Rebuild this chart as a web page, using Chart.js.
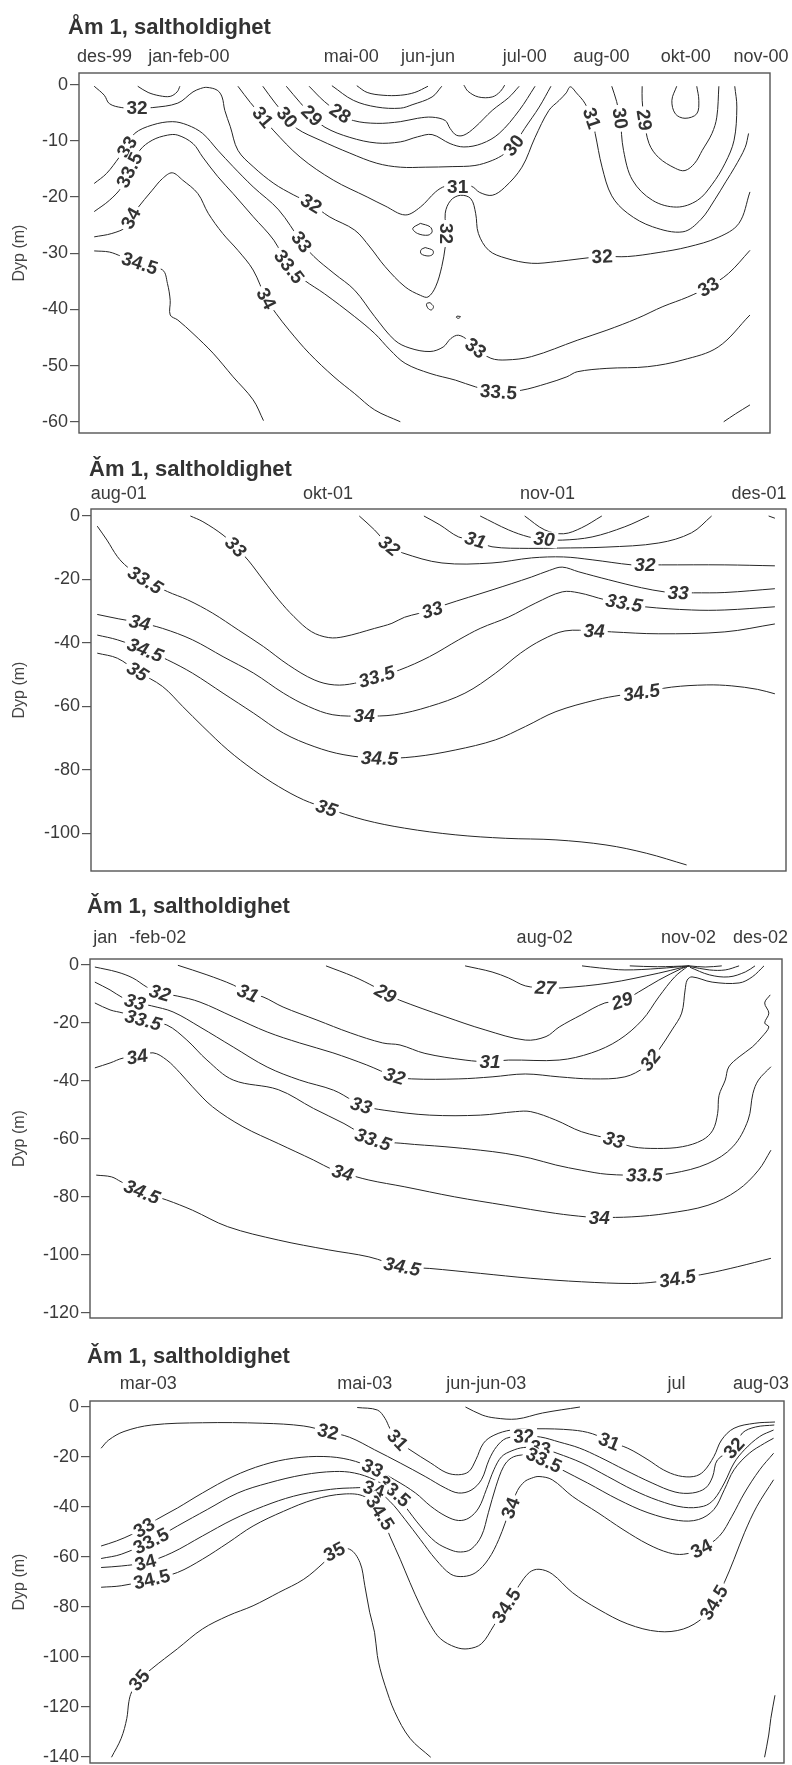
<!DOCTYPE html>
<html>
<head>
<meta charset="utf-8">
<title>Åm 1, saltholdighet</title>
<script src="https://cdn.jsdelivr.net/npm/chart.js@4.4.1/dist/chart.umd.min.js"></script>
<style>
  html, body { margin: 0; padding: 0; background: #fff; overflow: hidden; }
  #wrap { position: relative; width: 792px; height: 1765px; }
  #wrap canvas { position: absolute; left: 0; }
</style>
</head>
<body>
<div id="wrap">
  <canvas id="sec1" width="792" height="455" style="top:0px;width:792px;height:455px"></canvas>
  <canvas id="sec2" width="792" height="450" style="top:440px;width:792px;height:450px"></canvas>
  <canvas id="sec3" width="792" height="460" style="top:880px;width:792px;height:460px"></canvas>
  <canvas id="sec4" width="792" height="440" style="top:1325px;width:792px;height:440px"></canvas>
</div>
<script>
// x: position along the time section (0-100), y: depth in metres.
// A third element of 1 marks the point where the isohaline value is written.

// ---------- Section 1: des-99 .. nov-00 ----------
const sec1Dates = ['des-99', 'jan-feb-00', 'mai-00', 'jun-jun', 'jul-00', 'aug-00', 'okt-00', 'nov-00'];
const sec1DatePos = [3.7, 15.9, 39.4, 50.5, 64.5, 75.6, 87.8, 98.7];
const sec1Depths = [0, -10, -20, -30, -40, -50, -60];

const s1_32 = [[2.2,-0.3],[3.66,-1.9],[4.4,-3.4],[6.2,-4.1],[8.4,-4.2,1],[10.6,-4.1],[14.3,-3.3],[16.5,-1.3],[17.6,-0.7],[18.5,-0.5],[20.0,-1.0],[20.7,-2.2],[21.1,-4.6],[21.9,-7.5],[23.0,-11.7],[25.2,-14.6],[28.2,-17.6],[31.0,-19.6],[33.6,-21.2,1],[36.2,-23.5],[39.9,-25.9],[42.1,-28.9],[44.3,-32.4],[47.2,-36.0],[49.4,-37.5],[50.5,-37.8],[51.6,-36.0],[52.5,-32.4],[53.0,-28.9],[53.2,-26.5,1],[53.0,-22.9],[53.8,-20.6],[55.2,-19.7],[56.7,-20.3],[57.4,-22.9],[57.8,-26.5],[59.3,-29.5],[61.8,-30.9],[65.5,-31.8],[69.1,-31.5],[72.5,-31.0],[75.7,-30.6,1],[79.4,-30.6],[83.8,-29.9],[88.1,-28.9],[92.5,-27.2],[95.5,-24.7],[97.1,-19.1]];
const s1_31 = [[23.0,-0.3],[24.8,-3.2],[26.6,-5.8,1],[28.1,-8.1],[32.0,-12.9],[36.8,-17.0],[41.7,-20.0],[44.3,-21.6],[47.2,-23.2],[49.4,-21.8],[51.6,-19.1],[53.0,-18.1],[54.8,-18.1,1],[56.8,-18.1],[58.0,-19.2],[59.8,-19.7],[61.6,-18.3],[64.1,-14.7],[66.0,-9.4],[68.0,-4.6],[69.5,-2.8],[70.5,-1.5],[71.1,-0.4],[72.0,-1.5],[73.2,-3.3],[74.2,-6.0,1],[74.7,-8.7],[75.7,-14.7],[77.1,-19.8],[79.4,-22.9],[83.0,-25.3],[87.4,-26.2],[90.0,-24.0],[92.0,-20.5],[93.6,-17.3],[94.9,-14.7],[96.4,-11.2],[96.9,-8.7]];
const s1_30a = [[26.6,-0.3],[28.4,-3.3],[30.1,-5.8,1],[31.5,-7.8],[34.9,-9.9],[39.2,-12.2],[43.1,-14.0],[46.5,-14.7],[50.1,-14.7],[54.0,-14.6],[57.3,-14.4],[59.8,-13.5],[61.6,-12.3],[62.9,-10.8,1],[64.5,-7.8],[66.6,-4.0],[68.3,-0.3]];
const s1_30b = [[77.1,-0.3],[77.8,-3.0],[78.3,-6.0,1],[78.8,-11.7],[80.1,-17.0],[83.0,-20.6],[86.5,-21.8],[89.5,-20.6],[91.6,-17.8],[93.5,-14.0],[94.8,-9.9],[95.2,-4.0],[94.9,-0.3]];
const s1_29a = [[30.0,-0.3],[32.0,-3.2],[33.7,-5.5,1],[35.6,-7.6],[39.2,-9.4],[43.1,-10.4],[46.5,-10.2],[49.0,-9.3],[51.1,-8.9],[53.7,-10.5],[55.7,-11.1],[58.3,-10.5],[60.8,-8.7],[63.7,-4.6],[66.0,-0.3]];
const s1_29b = [[81.5,-0.3],[81.5,-2.8],[81.8,-6.3,1],[82.5,-10.5],[83.9,-13.0],[86.3,-14.9],[87.7,-15.3],[89.1,-14.0],[90.2,-11.7],[91.6,-8.7],[92.3,-5.8],[92.6,-0.3]];
const s1_28 = [[33.3,-0.3],[35.5,-3.0],[37.8,-5.1,1],[39.7,-6.4],[43.1,-6.9],[46.5,-6.6],[49.0,-6.0],[51.1,-5.8],[53.0,-6.4],[53.7,-7.8],[54.6,-9.0],[55.7,-9.0],[57.3,-7.6],[59.8,-4.6],[62.2,-2.3],[63.7,-0.3]];
const s1_27 = [[36.6,-0.2],[39.7,-2.8],[43.1,-4.0],[46.5,-4.2],[48.2,-3.6],[51.1,-2.2],[52.5,-0.3]];
const s1_26 = [[40.2,-0.2],[41.7,-1.4],[44.0,-1.9],[46.5,-1.9],[48.6,-1.4],[50.5,-0.3]];
const s1_27b = [[55.7,-0.1],[56.3,-1.2],[57.8,-2.2],[59.8,-2.2],[61.0,-1.2],[61.6,-0.1]];
const s1_31b = [[8.5,-0.3],[10.0,-1.4],[11.7,-2.0],[13.2,-2.1],[14.2,-1.3],[14.6,-0.3]];
const s1_28b = [[86.5,-0.3],[85.8,-2.8],[86.3,-5.2],[87.7,-6.0],[89.4,-5.2],[89.7,-2.8],[89.4,-0.3]];
const s1_33 = [[2.2,-17.6],[4.0,-15.8],[5.85,-12.9],[6.95,-11.1,1],[8.05,-8.7],[10.6,-7.2],[13.5,-6.6],[15.7,-7.2],[17.9,-8.7],[20.1,-11.7],[22.3,-14.6],[25.2,-18.2],[28.9,-22.3],[32.2,-28.0,1],[34.0,-30.6],[36.9,-33.6],[39.9,-36.6],[42.8,-41.3],[45.7,-45.5],[47.9,-46.9],[50.8,-47.5],[52.7,-46.7],[53.8,-45.2],[54.9,-44.6],[56.3,-45.5],[57.4,-46.9,1],[59.6,-48.7],[61.8,-49.0],[65.5,-48.4],[72.1,-45.5],[76.4,-43.7],[80.8,-41.6],[84.5,-39.5],[88.1,-37.8],[91.1,-36.0,1],[94.0,-33.6],[97.1,-29.5]];
const s1_335 = [[2.2,-22.6],[4.4,-20.6],[6.2,-18.2],[7.3,-15.2,1],[8.8,-11.7],[10.6,-9.9],[12.8,-9.0],[14.3,-9.0],[16.5,-10.5],[17.9,-12.9],[20.1,-16.4],[22.3,-19.4],[25.2,-23.5],[28.2,-27.7],[30.4,-32.4,1],[32.6,-34.8],[35.5,-37.2],[39.9,-41.3],[42.8,-44.3],[45.0,-47.2],[47.2,-49.6],[50.8,-51.4],[54.5,-52.6],[57.4,-53.8],[60.7,-54.7,1],[64.0,-54.4],[67.7,-53.2],[70.6,-52.0],[72.1,-51.1],[76.4,-50.5],[82.3,-50.2],[87.4,-49.0],[92.5,-46.7],[97.1,-41.0]];
const s1_34 = [[2.2,-27.1],[4.75,-26.5],[6.95,-25.3],[7.5,-23.8,1],[8.4,-22.1],[10.6,-18.8],[12.1,-16.7],[13.5,-15.7],[15.0,-17.0],[17.2,-19.4],[18.7,-22.9],[20.8,-26.5],[23.0,-29.5],[25.2,-33.0],[27.1,-38.1,1],[28.5,-40.7],[30.4,-43.7],[33.3,-47.8],[36.9,-52.0],[39.9,-55.0],[42.8,-57.9],[46.5,-60.0]];
const s1_345 = [[2.2,-29.6],[4.4,-29.8],[6.2,-30.6],[8.8,-31.8,1],[12.1,-33.0],[12.8,-35.4],[13.2,-38.4],[13.2,-41.0],[14.3,-41.9],[16.5,-44.3],[19.4,-47.8],[22.3,-52.0],[25.2,-56.1],[26.7,-59.8]];
const s1_34b = [[93.3,-60.0],[95.0,-58.6],[97.1,-57.0]];
const s1_isl1 = [[49.4,-24.7],[50.8,-25.3],[51.1,-26.2],[50.5,-26.8],[49.0,-26.5],[48.3,-25.6],[49.4,-24.7]];
const s1_isl2 = [[50.1,-29.0],[51.2,-29.5],[51.2,-30.2],[50.5,-30.5],[49.5,-30.1],[49.5,-29.4],[50.1,-29.0]];
const s1_isl3 = [[50.8,-38.8],[51.3,-39.5],[51.0,-40.1],[50.5,-39.8],[50.3,-39.0],[50.8,-38.8]];
const s1_isl4 = [[54.7,-41.2],[55.2,-41.3],[54.9,-41.6],[54.6,-41.4],[54.7,-41.2]];

// ---------- Section 2: aug-01 .. des-01 ----------
const sec2Dates = ['aug-01', 'okt-01', 'nov-01', 'des-01'];
const sec2DatePos = [4.0, 34.1, 65.7, 96.1];
const sec2Depths = [0, -20, -40, -60, -80, -100];

const s2_335 = [[0.9,-3.3],[2.3,-7.7],[3.8,-12.9],[5.2,-16.1],[7.8,-20.3,1],[11.0,-23.9],[13.9,-26.5],[17.5,-30.7],[21.2,-36.0],[24.8,-41.2],[28.4,-47.0],[32.1,-51.7],[35.0,-53.3],[37.9,-52.8],[41.1,-50.7,1],[44.4,-48.6],[48.7,-44.4],[52.9,-39.1],[56.0,-35.5],[60.1,-31.9],[64.0,-27.5],[67.8,-24.0],[70.2,-24.3],[74.0,-26.5],[76.7,-27.5,1],[79.7,-28.7],[86.4,-29.7],[91.2,-29.7],[98.4,-28.7]];
const s2_34 = [[0.9,-31.1],[4.0,-32.5],[7.0,-33.7,1],[10.3,-35.5],[14.6,-39.1],[19.0,-44.4],[23.4,-49.6],[27.7,-55.9],[31.3,-60.1],[34.8,-62.7],[39.3,-63.1,1],[43.7,-62.7],[48.7,-60.1],[53.8,-55.9],[58.2,-49.6],[61.8,-43.3],[64.9,-39.1],[68.2,-36.3],[72.4,-36.3,1],[74.9,-36.6],[81.7,-37.2],[91.2,-36.6],[98.4,-34.1]];
const s2_345 = [[0.9,-37.6],[3.8,-39.1],[7.8,-42.3,1],[11.0,-45.4],[14.6,-49.6],[19.0,-55.9],[23.4,-62.2],[27.7,-68.5],[32.1,-72.7],[36.4,-75.3],[41.5,-76.4,1],[46.6,-75.9],[52.4,-73.8],[58.2,-70.6],[62.5,-66.4],[66.9,-61.7],[72.7,-58.0],[76.3,-56.5],[79.2,-55.7,1],[83.5,-54.0],[88.6,-53.3],[92.2,-53.6],[95.9,-54.7],[98.4,-56.1]];
const s2_35 = [[0.9,-43.3],[3.8,-44.9],[6.7,-49.1,1],[10.3,-53.8],[13.2,-60.1],[16.1,-66.4],[19.7,-73.8],[23.4,-80.1],[27.0,-85.3],[30.6,-89.5],[33.9,-92.1,1],[39.3,-95.8],[45.1,-98.4],[52.4,-100.5],[59.6,-101.6],[66.9,-102.1],[74.1,-103.7],[79.9,-106.3],[85.7,-110.0]];
const s2_33 = [[14.3,-0.1],[16.1,-1.9],[19.0,-6.1],[20.8,-9.8,1],[22.6,-14.0],[24.8,-20.3],[27.0,-26.5],[29.2,-31.8],[31.7,-36.5],[34.2,-38.4],[36.4,-38.1],[40.8,-35.5],[43.3,-33.9],[45.1,-32.0],[49.1,-29.7,1],[50.9,-28.1],[57.7,-23.4],[63.4,-19.3],[66.0,-17.2],[67.8,-16.2],[70.2,-17.7],[74.5,-20.2],[79.2,-22.7],[82.5,-24.0],[84.5,-24.3,1],[86.7,-24.3],[91.2,-24.2],[98.4,-23.0]];
const s2_32 = [[38.6,-0.1],[40.8,-4.5],[42.9,-9.5,1],[44.8,-11.7],[50.5,-14.9],[57.7,-14.9],[63.4,-13.3],[68.0,-13.0],[72.1,-13.9],[77.8,-15.5],[79.7,-15.5,1],[82.1,-15.5],[91.2,-15.5],[98.4,-15.8]];
const s2_31 = [[47.9,-0.1],[50.2,-2.9],[52.9,-6.7],[55.3,-7.7,1],[57.7,-9.8],[63.0,-10.3],[67.3,-10.2],[74.1,-9.9],[81.7,-8.6],[86.4,-5.4],[89.3,-0.1]];
const s2_30 = [[56.0,-0.1],[60.1,-4.5],[63.0,-6.7],[65.2,-7.4,1],[67.8,-7.7],[72.1,-6.7],[76.8,-3.5],[80.3,-0.1]];
const s2_29 = [[62.4,-0.1],[65.3,-4.5],[68.0,-5.7],[70.6,-3.8],[73.5,-0.1]];
const s2_31b = [[97.5,-0.1],[98.4,-0.8]];

// ---------- Section 3: jan-feb-02 .. des-02 ----------
const sec3Dates = ['jan', '-feb-02', 'aug-02', 'nov-02', 'des-02'];
const sec3DatePos = [2.2, 9.8, 65.7, 86.5, 96.9];
const sec3Depths = [0, -20, -40, -60, -80, -100, -120];

const s3_32 = [[0.7,-0.7],[3.9,-2.4],[6.2,-4.5],[8.2,-7.6],[10.1,-9.7,1],[12.6,-10.7],[15.9,-12.8],[20.7,-17.9],[25.6,-23.1],[30.3,-26.9],[35.1,-30.3],[40.0,-34.5],[44.0,-38.4,1],[46.5,-39.3],[53.3,-39.3],[58.1,-38.6],[62.9,-37.6],[67.8,-38.6],[72.5,-39.3],[77.3,-38.6],[80.2,-35.2],[81.0,-32.8,1],[82.2,-29.3],[84.1,-22.4],[85.5,-16.6],[86.0,-8.6],[86.3,-5.2],[87.0,-4.1],[89.9,-5.9],[93.8,-6.2],[95.7,-4.1],[97.4,-0.3]];
const s3_31 = [[12.7,-0.1],[16.9,-3.4],[20.7,-6.9],[22.8,-9.7,1],[25.0,-11.0],[27.9,-14.5],[32.8,-19.0],[37.6,-23.4],[42.3,-26.9],[44.8,-27.6],[48.4,-30.5],[54.2,-32.8],[57.8,-33.4,1],[60.5,-32.8],[67.8,-32.8],[72.5,-30.3],[76.4,-25.9],[79.8,-19.0],[82.2,-11.0],[84.5,-4.1],[86.4,-0.4]];
const s3_29 = [[34.1,-0.3],[38.1,-4.0],[41.1,-7.5],[42.7,-9.8,1],[44.7,-12.1],[51.3,-17.8],[57.1,-22.4],[62.9,-25.9],[65.9,-24.7],[67.8,-21.4],[71.0,-17.2],[74.4,-13.1],[76.9,-12.4,1],[79.3,-9.3],[82.2,-5.2],[85.5,-1.2],[86.6,-0.3]];
const s3_27 = [[54.2,-0.3],[58.1,-2.4],[60.5,-4.5],[62.9,-7.2],[65.8,-7.9,1],[68.2,-7.9],[75.0,-6.2],[82.2,-2.8],[85.5,-0.9],[86.6,-0.3]];
const s3_26a = [[71.1,-0.3],[73.6,-1.0],[77.3,-1.7],[82.2,-1.2],[86.6,-0.3]];
const s3_26b = [[78.0,-0.3],[82.0,-0.6],[86.6,-0.3]];
const s3_26c = [[86.6,-0.3],[88.9,-0.7],[91.3,-0.3]];
const s3_27b = [[86.6,-0.5],[89.5,-1.7],[91.8,-1.7],[93.8,-0.3]];
const s3_29b = [[86.7,-0.8],[89.5,-3.4],[92.3,-4.1],[94.7,-2.4],[96.1,-0.3]];
const s3_33 = [[0.7,-5.9],[2.9,-8.6],[4.8,-11.4],[6.5,-12.8,1],[8.9,-14.1],[12.0,-16.2],[15.9,-21.4],[20.7,-28.3],[25.6,-35.2],[30.3,-39.7],[35.2,-43.2],[38.1,-47.0],[39.2,-48.5,1],[42.5,-50.1],[49.1,-51.8],[56.4,-51.8],[61.5,-50.6],[63.7,-50.6],[67.3,-53.5],[71.0,-57.5],[75.7,-60.4,1],[78.3,-62.7],[82.0,-63.3],[85.6,-62.7],[88.5,-60.4],[90.0,-57.0],[90.7,-51.2],[90.9,-45.0],[91.8,-39.7],[92.3,-35.2],[93.8,-31.7],[95.7,-28.3],[97.1,-24.8],[98.1,-21.4],[97.5,-20.0],[98.1,-16.6],[97.5,-13.1],[98.3,-10.3]];
const s3_335 = [[0.7,-13.1],[2.9,-15.5],[4.8,-16.6],[7.7,-19.0,1],[11.1,-20.7],[14.0,-25.9],[16.9,-32.8],[20.7,-39.7],[27.2,-43.0],[32.3,-49.5],[36.7,-54.7],[40.9,-60.2,1],[45.4,-61.6],[51.3,-62.7],[56.4,-63.9],[60.0,-65.0],[63.7,-66.7],[67.3,-69.0],[71.0,-70.8],[74.7,-72.2],[80.1,-72.5,1],[84.1,-71.9],[89.3,-68.5],[92.9,-62.7],[95.1,-53.5],[95.8,-44.3],[96.6,-39.7],[98.4,-35.1]];
const s3_34 = [[0.7,-35.5],[2.9,-33.8],[4.8,-32.1],[6.8,-31.7,1],[9.1,-30.3],[11.1,-32.8],[13.0,-37.2],[14.8,-42.0],[17.7,-48.9],[22.1,-55.8],[27.2,-61.6],[32.3,-67.3],[35.2,-70.8],[36.5,-71.7,1],[40.3,-74.2],[45.4,-76.5],[52.7,-80.0],[60.0,-82.9],[67.3,-85.7],[71.7,-86.9],[73.6,-87.1,1],[78.3,-86.9],[83.4,-85.7],[89.3,-82.9],[93.6,-77.7],[96.6,-70.8],[98.4,-63.9]];
const s3_345 = [[0.9,-72.5],[3.1,-73.1],[4.5,-74.8],[7.5,-78.3,1],[11.1,-81.1],[14.8,-84.6],[19.9,-90.3],[27.2,-94.9],[34.5,-98.3],[40.3,-100.7],[45.1,-104.1,1],[49.1,-104.7],[56.4,-106.4],[63.7,-108.1],[71.0,-109.3],[78.3,-109.9],[82.0,-109.3],[84.9,-108.2,1],[89.3,-106.4],[93.6,-104.1],[98.4,-101.2]];

// ---------- Section 4: mar-03 .. aug-03 ----------
const sec4Dates = ['mar-03', 'mai-03', 'jun-jun-03', 'jul', 'aug-03'];
const sec4DatePos = [8.4, 39.6, 57.1, 84.5, 96.7];
const sec4Depths = [0, -20, -40, -60, -80, -100, -120, -140];

const s4_31 = [[38.5,-0.3],[41.4,-1.3],[42.5,-4.6],[43.2,-8.6],[44.3,-13.3,1],[46.1,-17.2],[49.1,-22.5],[51.3,-26.3],[53.1,-27.2],[54.6,-25.9],[55.6,-21.2],[56.7,-14.6],[58.2,-11.4],[60.7,-9.3],[64.4,-8.8],[69.5,-9.3],[72.4,-10.8],[74.8,-13.9,1],[77.5,-16.6],[80.4,-21.2],[82.6,-25.2],[84.8,-27.6],[87.0,-27.9],[88.4,-25.9],[89.9,-19.9],[91.0,-13.3],[92.8,-8.6],[95.8,-6.6],[98.7,-6.1]];
const s4_32 = [[1.6,-16.6],[2.7,-13.3],[4.9,-9.9],[8.9,-7.3],[16.2,-6.4],[24.9,-6.6],[30.8,-7.7],[34.3,-10.0,1],[37.4,-12.2],[41.0,-17.2],[44.7,-22.5],[48.3,-27.9],[51.2,-32.5],[53.1,-34.5],[54.9,-33.4],[56.4,-29.2],[57.5,-21.2],[58.6,-15.9],[60.0,-12.6],[62.5,-11.8,1],[64.9,-12.1],[67.6,-14.1],[70.5,-16.5],[73.4,-20.1],[77.1,-25.3],[81.0,-30.5],[84.3,-34.1],[86.8,-34.5],[88.7,-32.5],[89.7,-28.1],[90.4,-21.3],[92.8,-16.5,1],[94.0,-10.5],[95.9,-8.1],[98.6,-7.3]];
const s4_33 = [[1.6,-55.7],[3.8,-53.7],[6.0,-51.1],[7.8,-48.4,1],[9.6,-45.1],[12.6,-40.5],[16.2,-34.5],[20.6,-27.9],[25.0,-23.2],[29.3,-20.6],[33.7,-19.9],[37.4,-21.2],[40.7,-24.5,1],[43.9,-29.2],[46.9,-34.5],[49.1,-39.8],[51.3,-43.8],[53.1,-45.5],[54.6,-44.5],[56.0,-40.5],[57.1,-33.2],[58.2,-25.2],[59.3,-20.0],[60.8,-17.6],[62.5,-16.3],[64.9,-16.5,1],[67.3,-18.6],[70.9,-22.5],[74.6,-27.9],[78.2,-33.2],[81.9,-37.5],[85.5,-40.2],[88.4,-39.8],[89.9,-37.1],[91.4,-30.5],[92.8,-22.5],[94.3,-17.2],[96.5,-11.9],[98.5,-9.3]];
const s4_335 = [[1.6,-60.7],[4.5,-59.0],[8.8,-53.7,1],[12.6,-47.7],[16.9,-41.1],[21.3,-34.5],[25.7,-30.5],[30.8,-27.2],[35.2,-25.9],[38.1,-26.5],[41.0,-29.2],[43.8,-33.8,1],[45.4,-39.8],[47.6,-47.7],[49.8,-54.1],[52.0,-57.3],[53.4,-58.1],[54.9,-57.0],[56.4,-51.7],[57.4,-42.4],[58.5,-31.8],[59.6,-23.9],[60.7,-20.5],[62.2,-19.3],[63.7,-19.7],[65.4,-21.3,1],[68.0,-25.2],[71.7,-30.5],[76.1,-37.1],[80.4,-42.4],[84.8,-45.5],[87.7,-45.1],[89.9,-41.1],[91.4,-33.2],[92.8,-25.2],[95.0,-18.6],[97.2,-14.6],[98.5,-12.6]];
const s4_34 = [[1.6,-64.3],[4.5,-63.7],[8.0,-62.3,1],[11.8,-58.4],[16.2,-51.7],[20.6,-45.1],[25.0,-39.8],[29.3,-35.8],[33.7,-33.4],[37.4,-32.5],[40.9,-33.0,1],[43.2,-37.8],[45.4,-45.1],[47.6,-53.1],[49.8,-61.0],[52.0,-67.0],[53.8,-67.9],[55.6,-66.3],[57.4,-61.0],[58.9,-53.1],[60.6,-40.5,1],[61.6,-33.5],[62.6,-30.0],[63.6,-28.6],[64.7,-27.9],[66.6,-29.2],[69.5,-35.8],[73.2,-42.4],[76.8,-49.1],[80.4,-55.0],[83.4,-58.4],[85.5,-59.0],[88.1,-56.8,1],[90.7,-51.7],[92.5,-43.8],[94.3,-34.5],[96.5,-25.2],[98.5,-18.6]];
const s4_345 = [[1.6,-72.2],[4.5,-71.6],[8.9,-69.0,1],[12.6,-66.3],[16.2,-61.0],[19.9,-54.4],[23.5,-47.7],[27.9,-41.8],[32.3,-37.1],[36.6,-34.9],[39.6,-36.0],[41.8,-42.4,1],[43.2,-51.7],[44.7,-61.0],[46.1,-70.3],[47.6,-79.6],[49.1,-87.5],[50.5,-92.8],[52.7,-96.2],[54.5,-96.8],[56.4,-94.8],[58.2,-87.5],[60.0,-79.6,1],[61.8,-71.6],[63.3,-66.3],[64.7,-65.0],[66.6,-66.9],[69.5,-74.3],[73.2,-80.9],[77.5,-86.9],[81.9,-89.9],[85.5,-88.9],[88.4,-84.2],[89.9,-78.3,1],[91.4,-70.3],[92.8,-61.0],[94.3,-50.4],[96.1,-39.8],[98.5,-29.2]];
const s4_35 = [[3.1,-140.2],[4.5,-132.6],[5.3,-124.7],[5.6,-118.0],[6.0,-114.1],[7.1,-109.4,1],[8.9,-104.8],[12.6,-96.8],[16.2,-88.9],[19.9,-83.6],[23.5,-79.6],[27.2,-74.3],[30.8,-69.0],[33.7,-62.3],[35.2,-58.0,1],[37.4,-57.0],[38.9,-62.3],[39.6,-71.6],[40.3,-82.2],[41.0,-90.2],[41.4,-99.5],[41.8,-104.8],[42.5,-111.4],[43.9,-122.0],[46.1,-132.6],[49.1,-140.2]];
const s4_35b = [[97.2,-140.2],[97.8,-131.3],[98.1,-124.7],[98.7,-115.4]];
const s4_30 = [[54.1,-0.1],[56.5,-3.3],[58.4,-4.5],[61.5,-4.9],[65.2,-2.5],[70.6,-0.1]];

// ---------- drawing ----------
const FONT = '"Liberation Sans", Arial, Helvetica, "DejaVu Sans", sans-serif';
const INK = '#333';

function toPoints(arr) {
  return arr.map(p => ({ x: p[0], y: p[1], tag: p[2] === 1 }));
}

// title and the sampling dates above the frame
const sectionText = {
  id: 'sectionText',
  afterDraw(chart, args, o) {
    const ctx = chart.ctx, xs = chart.scales.x;
    ctx.save();
    ctx.fillStyle = INK;
    ctx.textBaseline = 'alphabetic';
    ctx.textAlign = 'left';
    ctx.font = 'bold 22px ' + FONT;
    ctx.fillText(o.title, o.titleX, o.titleY);
    ctx.font = '18px ' + FONT;
    ctx.fillStyle = '#3a3a3a';
    ctx.textAlign = 'center';
    o.dates.forEach((d, i) => ctx.fillText(d, xs.getPixelForValue(o.datePos[i]), o.dateY));
    ctx.restore();
  }
};

// in-line isohaline values, rotated along the line, with a gap cut out
const isoLabels = {
  id: 'isoLabels',
  afterDatasetsDraw(chart, args, o) {
    const ctx = chart.ctx, xs = chart.scales.x, ys = chart.scales.y;
    ctx.save();
    ctx.font = o.font;
    ctx.textAlign = 'center';
    ctx.textBaseline = 'middle';
    chart.data.datasets.forEach(ds => {
      const pts = ds.data;
      pts.forEach((p, i) => {
        if (!p.tag) return;
        const a = pts[Math.max(0, i - 1)], b = pts[Math.min(pts.length - 1, i + 1)];
        const px = xs.getPixelForValue(p.x), py = ys.getPixelForValue(p.y);
        let ang = Math.atan2(ys.getPixelForValue(b.y) - ys.getPixelForValue(a.y),
                             xs.getPixelForValue(b.x) - xs.getPixelForValue(a.x));
        if (ang > Math.PI / 2 + 1e-6) ang -= Math.PI;
        if (ang < -Math.PI / 2 + 0.05) ang += Math.PI;
        const txt = String(ds.level);
        const w = ctx.measureText(txt).width;
        ctx.save();
        ctx.translate(px, py);
        ctx.rotate(ang);
        ctx.fillStyle = '#fff';
        ctx.fillRect(-w / 2 - 3, -8, w + 6, 16);
        ctx.fillStyle = INK;
        ctx.fillText(txt, 0, 1);
        ctx.restore();
      });
    });
    ctx.restore();
  }
};

const frame = {
  id: 'frame',
  afterDraw(chart) {
    const { ctx, chartArea: c } = chart;
    ctx.save();
    ctx.strokeStyle = '#555';
    ctx.lineWidth = 1.4;
    ctx.strokeRect(c.left, c.top, c.right - c.left, c.bottom - c.top);
    ctx.restore();
  }
};

function makeSection(id, o) {
  const datasets = o.lines.map(([level, arr]) => ({
    level,
    data: toPoints(arr),
    showLine: true,
    borderColor: '#262626',
    borderWidth: 1,
    pointRadius: 0,
    pointHoverRadius: 0,
    tension: 0.35,
    fill: false
  }));
  return new Chart(document.getElementById(id), {
    type: 'scatter',
    data: { datasets },
    options: {
      responsive: false,
      animation: false,
      devicePixelRatio: 1,
      events: [],
      layout: { padding: o.pad },
      plugins: {
        legend: { display: false },
        tooltip: { enabled: false },
        sectionText: { title: o.title, titleX: o.titleX, titleY: o.titleY, dates: o.dates, datePos: o.datePos, dateY: o.dateY },
        isoLabels: { font: o.labelFont }
      },
      scales: {
        x: { type: 'linear', min: 0, max: 100, display: false },
        y: {
          type: 'linear', position: 'left', min: o.yMin, max: o.yMax,
          afterBuildTicks: s => { s.ticks = o.depths.map(v => ({ value: v })); },
          afterFit: s => { s.width = o.axisW; s.paddingTop = 0; s.paddingBottom = 0; },
          ticks: { font: { family: FONT, size: 18 }, color: '#3a3a3a', padding: 2, autoSkip: false, callback: v => String(v) },
          grid: { drawOnChartArea: false, tickLength: 9, color: '#555', lineWidth: 1.2 },
          border: { display: false },
          title: { display: true, text: 'Dyp (m)', font: { family: FONT, size: 16 }, color: '#444', padding: { top: 10, bottom: 0 } }
        }
      }
    },
    plugins: [sectionText, isoLabels, frame]
  });
}

makeSection('sec1', {
  title: 'Åm 1, saltholdighet', titleX: 68, titleY: 34, dateY: 62,
  dates: sec1Dates, datePos: sec1DatePos, depths: sec1Depths,
  yMin: -62.0, yMax: 2.06, axisW: 79,
  pad: { left: 0, top: 73, right: 22, bottom: 22 },
  labelFont: 'bold 19px ' + FONT,
  lines: [[32, s1_32], [31, s1_31], [30, s1_30a], [30, s1_30b], [29, s1_29a], [29, s1_29b], [28, s1_28],
          [27, s1_27], [26, s1_26], [27, s1_27b], [31, s1_31b], [28, s1_28b],
          [33, s1_33], [33.5, s1_335], [34, s1_34], [34.5, s1_345], [34, s1_34b],
          [32, s1_isl1], [32, s1_isl2], [32, s1_isl3], [32, s1_isl4]]
});

makeSection('sec2', {
  title: 'Ǎm 1, saltholdighet', titleX: 89, titleY: 36, dateY: 59,
  dates: sec2Dates, datePos: sec2DatePos, depths: sec2Depths,
  yMin: -111.9, yMax: 2.1, axisW: 91,
  pad: { left: 0, top: 69, right: 6, bottom: 19 },
  labelFont: 'italic bold 19px ' + FONT,
  lines: [[33.5, s2_335], [34, s2_34], [34.5, s2_345], [35, s2_35], [33, s2_33], [32, s2_32],
          [31, s2_31], [30, s2_30], [29, s2_29], [31, s2_31b]]
});

makeSection('sec3', {
  title: 'Ǎm 1, saltholdighet', titleX: 87, titleY: 33, dateY: 63,
  dates: sec3Dates, datePos: sec3DatePos, depths: sec3Depths,
  yMin: -121.8, yMax: 2.07, axisW: 90,
  pad: { left: 0, top: 79, right: 10, bottom: 22 },
  labelFont: 'italic bold 19px ' + FONT,
  lines: [[32, s3_32], [31, s3_31], [29, s3_29], [27, s3_27], [26, s3_26a], [26, s3_26b], [26, s3_26c],
          [27, s3_27b], [29, s3_29b], [33, s3_33], [33.5, s3_335], [34, s3_34], [34.5, s3_345]]
});

makeSection('sec4', {
  title: 'Ǎm 1, saltholdighet', titleX: 87, titleY: 38, dateY: 64,
  dates: sec4Dates, datePos: sec4DatePos, depths: sec4Depths,
  yMin: -142.5, yMax: 2.3, axisW: 90,
  pad: { left: 0, top: 76, right: 8, bottom: 2 },
  labelFont: 'bold 19px ' + FONT,
  lines: [[31, s4_31], [32, s4_32], [33, s4_33], [33.5, s4_335], [34, s4_34], [34.5, s4_345],
          [35, s4_35], [35, s4_35b], [30, s4_30]]
});
</script>
</body>
</html>
